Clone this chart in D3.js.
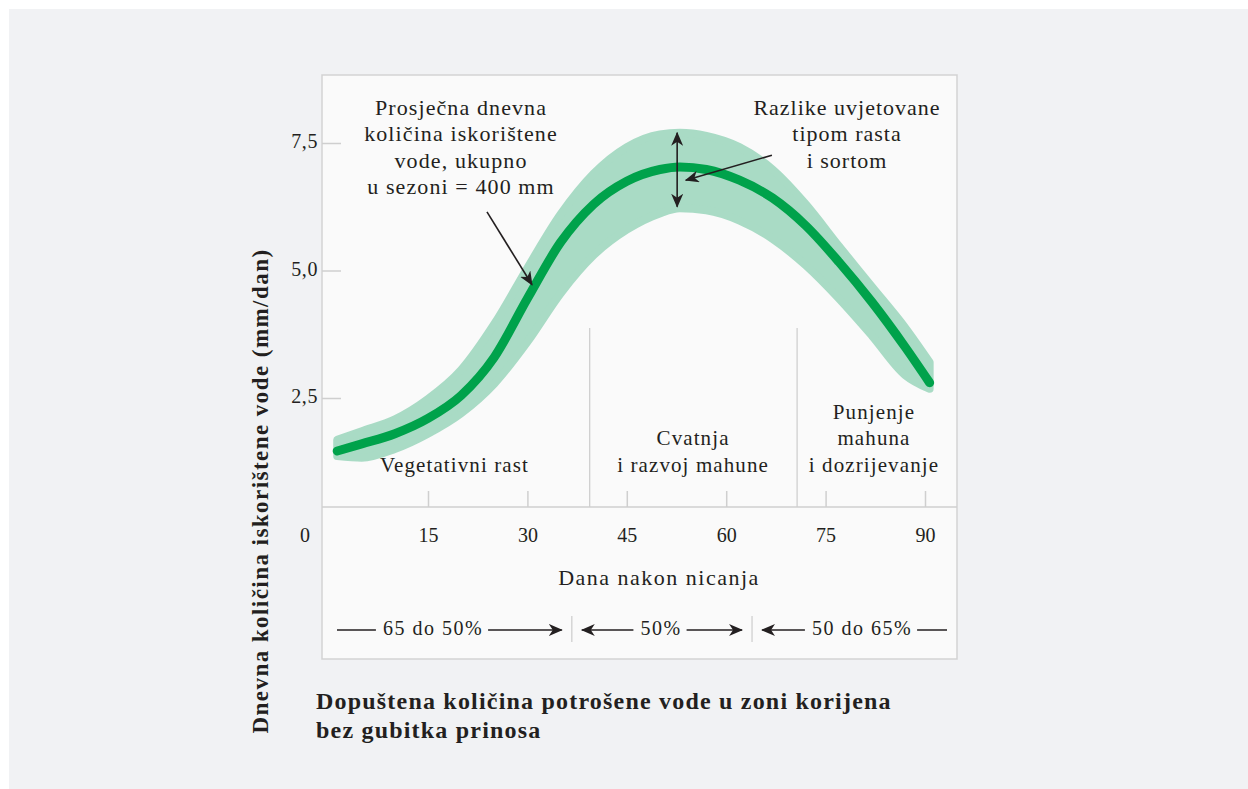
<!DOCTYPE html>
<html>
<head>
<meta charset="utf-8">
<script src="https://cdn.jsdelivr.net/npm/d3@7"></script>
<style>
  html, body { margin: 0; padding: 0; background: #ffffff; }
  svg { display: block; }
  text { font-family: "Liberation Serif", "DejaVu Serif", serif; fill: #231f20; }
</style>
</head>
<body>
<svg id="chart" width="1248" height="789"></svg>
<script>
// ---------------- data ----------------
const days       = [1.3, 5, 10, 15, 20, 25, 30, 35, 40, 45, 50, 53, 57, 62, 67, 72, 77, 82, 87, 90.7];
const dailyUse   = [1.46, 1.60, 1.80, 2.10, 2.55, 3.30, 4.45, 5.55, 6.30, 6.75, 6.98, 7.03, 6.98, 6.77, 6.42, 5.88, 5.17, 4.38, 3.50, 2.80];
const bandUpper  = [1.68, 1.85, 2.08, 2.48, 3.05, 3.95, 5.05, 6.10, 6.90, 7.42, 7.67, 7.70, 7.64, 7.42, 6.98, 6.30, 5.48, 4.68, 3.88, 3.20];
const bandLower  = [1.36, 1.33, 1.50, 1.80, 2.20, 2.78, 3.60, 4.55, 5.30, 5.80, 6.12, 6.22, 6.18, 5.98, 5.62, 5.10, 4.45, 3.72, 2.95, 2.68];

const xTicks      = [15, 30, 45, 60, 75, 90];
const xTickLabels = ["15", "30", "45", "60", "75", "90"];
const yTicks      = [2.5, 5.0, 7.5];
const yTickLabels = ["2,5", "5,0", "7,5"];
const originLabel = "0";

const phaseBounds = [39.4, 70.7];
const phaseNames  = [["Vegetativni rast"], ["Cvatnja", "i razvoj mahune"], ["Punjenje", "mahuna", "i dozrijevanje"]];
const phaseCenters = [19, 55, 82.3];

const depletionBounds = [36.7, 63.9];
const depletionLabels = ["65 do 50%", "50%", "50 do 65%"];

const xTitle = "Dana nakon nicanja";
const yTitle = "Dnevna količina iskorištene vode (mm/dan)";
const chartTitle = ["Dopuštena količina potrošene vode u zoni korijena", "bez gubitka prinosa"];
const noteLeft  = ["Prosječna dnevna", "količina iskorištene", "vode, ukupno", "u sezoni = 400 mm"];
const noteRight = ["Razlike uvjetovane", "tipom rasta", "i sortom"];
// arrow annotations in data coordinates [day, value]
const noteLeftArrow  = [[23.9, 6.15], [30.7, 4.72]];
const noteRightArrow = [[66.9, 7.26], [53.9, 6.77]];
const rangeArrow     = [[52.6, 7.70], [52.6, 6.25]];

// ---------------- layout ----------------
const W = 1248, H = 789;
const panel = { x0: 322, y0: 75, x1: 957, y1: 659 };
const axisY = 507;
const svg = d3.select("#chart");

const x = d3.scaleLinear().domain([0, 90]).range([328.6, 925]);
const y = d3.scaleLinear().domain([0, 7.5]).range([525.5, 143]);

const ink = "#231f20";
const gridGrey = "#cfcfcf";

// background
svg.append("rect").attr("x", 0).attr("y", 0).attr("width", W).attr("height", H).attr("fill", "#ffffff");
svg.append("rect").attr("x", 9).attr("y", 9).attr("width", W - 9).attr("height", H - 9).attr("fill", "#f1f2f4");
svg.append("rect").attr("x", panel.x0).attr("y", panel.y0)
  .attr("width", panel.x1 - panel.x0).attr("height", panel.y1 - panel.y0)
  .attr("fill", "#fafafa").attr("stroke", "#d3d3d3").attr("stroke-width", 1.5);

// markers
const defs = svg.append("defs");
defs.append("marker").attr("id", "ah").attr("viewBox", "0 -6 14 12")
  .attr("refX", 13).attr("refY", 0).attr("markerWidth", 14).attr("markerHeight", 12)
  .attr("markerUnits", "userSpaceOnUse").attr("orient", "auto-start-reverse")
  .append("path").attr("d", "M0,-6L14,0L0,6L4,0Z").attr("fill", ink);

// x axis line
svg.append("line").attr("x1", panel.x0).attr("x2", panel.x1).attr("y1", axisY).attr("y2", axisY)
  .attr("stroke", gridGrey).attr("stroke-width", 1.5);

// x ticks (inside, above the axis line)
const xAxis = d3.axisTop(x).tickValues(xTicks).tickSize(16).tickFormat("");
const gx = svg.append("g").attr("transform", `translate(0,${axisY})`).call(xAxis);
gx.select(".domain").remove();
gx.selectAll(".tick line").attr("stroke", gridGrey).attr("stroke-width", 1.5);
gx.selectAll(".tick").append("text")
  .attr("y", 30).attr("text-anchor", "middle").attr("dominant-baseline", "middle")
  .attr("font-size", 20).attr("fill", ink)
  .text((d, i) => xTickLabels[i]);

// y ticks
const yAxis = d3.axisRight(y).tickValues(yTicks).tickSize(19).tickFormat("");
const gy = svg.append("g").attr("transform", `translate(${panel.x0},0)`).call(yAxis);
gy.select(".domain").remove();
gy.selectAll(".tick line").attr("stroke", gridGrey).attr("stroke-width", 1.5);
gy.selectAll(".tick").append("text")
  .attr("x", -4).attr("text-anchor", "end").attr("dominant-baseline", "middle")
  .attr("font-size", 20).attr("fill", ink).attr("letter-spacing", 0.6)
  .text((d, i) => yTickLabels[i]);

svg.append("text").attr("x", 305).attr("y", axisY + 30)
  .attr("text-anchor", "middle").attr("dominant-baseline", "middle").attr("font-size", 20)
  .text(originLabel);

// phase separators
svg.selectAll("line.sep").data(phaseBounds).enter().append("line")
  .attr("x1", d => x(d)).attr("x2", d => x(d)).attr("y1", 328).attr("y2", axisY)
  .attr("stroke", gridGrey).attr("stroke-width", 1.3);

// band + line
const pts = days.map((d, i) => ({ d, v: dailyUse[i], u: bandUpper[i], l: bandLower[i] }));
const area = d3.area().x(p => x(p.d)).y0(p => y(p.l)).y1(p => y(p.u)).curve(d3.curveMonotoneX);
svg.append("path").datum(pts).attr("d", area).attr("fill", "#a9dbc5")
  .attr("stroke", "#a9dbc5").attr("stroke-width", 8).attr("stroke-linejoin", "round").attr("stroke-linecap", "round");
const line = d3.line().x(p => x(p.d)).y(p => y(p.v)).curve(d3.curveMonotoneX);
svg.append("path").datum(pts).attr("d", line).attr("fill", "none")
  .attr("stroke", "#00a24b").attr("stroke-width", 9).attr("stroke-linecap", "round").attr("stroke-linejoin", "round");

// phase names
phaseNames.forEach((lines, i) => {
  const n = lines.length;
  lines.forEach((t, j) => {
    svg.append("text").attr("x", x(phaseCenters[i])).attr("y", 467 - (n - 1 - j) * 26.5)
      .attr("text-anchor", "middle").attr("dominant-baseline", "middle").attr("font-size", 21)
      .attr("letter-spacing", 1.1).text(t);
  });
});

// annotations
noteLeft.forEach((t, j) => {
  svg.append("text").attr("x", 461).attr("y", 110 + j * 26.3)
    .attr("text-anchor", "middle").attr("dominant-baseline", "middle").attr("font-size", 22)
    .attr("letter-spacing", 1.1).text(t);
});
noteRight.forEach((t, j) => {
  svg.append("text").attr("x", 847).attr("y", 110 + j * 26.3)
    .attr("text-anchor", "middle").attr("dominant-baseline", "middle").attr("font-size", 22)
    .attr("letter-spacing", 1.0).text(t);
});
function arrow(a, b, both) {
  const l = svg.append("line")
    .attr("x1", x(a[0])).attr("y1", y(a[1])).attr("x2", x(b[0])).attr("y2", y(b[1]))
    .attr("stroke", ink).attr("stroke-width", 1.6).attr("marker-end", "url(#ah)");
  if (both) l.attr("marker-start", "url(#ah)");
}
arrow(noteLeftArrow[0], noteLeftArrow[1], false);
arrow(noteRightArrow[0], noteRightArrow[1], false);
arrow(rangeArrow[0], rangeArrow[1], true);

// x title
svg.append("text").attr("x", 659).attr("y", 580).attr("text-anchor", "middle")
  .attr("dominant-baseline", "middle").attr("font-size", 22).attr("letter-spacing", 1.5).text(xTitle);

// depletion row
const rowY = 630;
const segEdges = [panel.x0 + 15, x(depletionBounds[0]), x(depletionBounds[1]), panel.x1 - 10];
svg.selectAll("line.dep").data(depletionBounds).enter().append("line")
  .attr("x1", d => x(d)).attr("x2", d => x(d)).attr("y1", 616).attr("y2", 642)
  .attr("stroke", gridGrey).attr("stroke-width", 1.3);
depletionLabels.forEach((t, i) => {
  const s0 = segEdges[i] + (i > 0 ? 10 : 0);
  const s1 = segEdges[i + 1] - (i < 2 ? 10 : 0);
  const cx = i === 0 ? 433 : (i === 1 ? 661 : 862);
  const txt = svg.append("text").attr("x", cx).attr("y", rowY)
    .attr("text-anchor", "middle").attr("dominant-baseline", "middle").attr("font-size", 20)
    .attr("letter-spacing", 1.5).text(t);
  const bb = txt.node().getBBox();
  const l1 = svg.append("line").attr("x1", bb.x - 7).attr("x2", s0).attr("y1", rowY).attr("y2", rowY)
    .attr("stroke", ink).attr("stroke-width", 1.5);
  if (i > 0) l1.attr("marker-end", "url(#ah)");
  const l2 = svg.append("line").attr("x1", bb.x + bb.width + 5).attr("x2", s1).attr("y1", rowY).attr("y2", rowY)
    .attr("stroke", ink).attr("stroke-width", 1.5);
  if (i < 2) l2.attr("marker-end", "url(#ah)");
});

// y title
svg.append("text").attr("transform", "translate(263,491) rotate(-90)")
  .attr("text-anchor", "middle").attr("dominant-baseline", "middle")
  .attr("font-size", 23).attr("font-weight", "bold").attr("letter-spacing", 1.45).text(yTitle);

// chart title
chartTitle.forEach((t, j) => {
  svg.append("text").attr("x", 316).attr("y", 703 + j * 29)
    .attr("dominant-baseline", "middle").attr("font-size", 24).attr("font-weight", "bold")
    .attr("letter-spacing", 1.2).text(t);
});
</script>
</body>
</html>
